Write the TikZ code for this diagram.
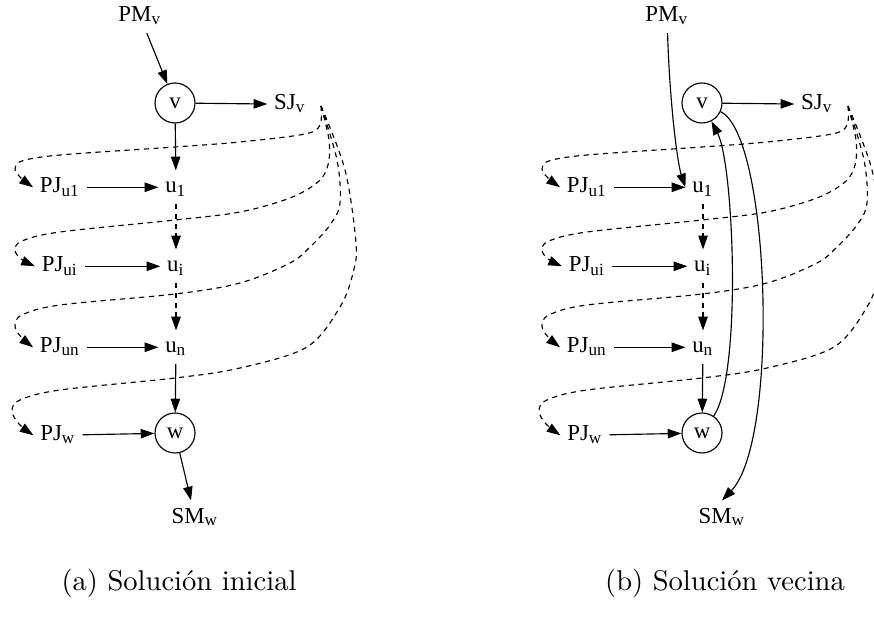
\documentclass[tikz,border=0pt]{standalone}
\usepackage{fontspec}
\newfontfamily\gvfont{Liberation Serif}
\usetikzlibrary{arrows.meta}

\tikzset{
  gv/.style={font=\gvfont\fontsize{8}{9}\selectfont},
  lbl/.style={gv, text height=5.5pt, text depth=1.5pt, inner sep=2.2pt},
  vert/.style={gv, draw, circle, minimum size=14pt, inner sep=0pt},
  flow/.style={-{Triangle[length=4.8pt,width=3.3pt]}},
  hop/.style={flow, dash pattern=on 1.8pt off 1.6pt},
}

\begin{document}
\begin{tikzpicture}[x=0.35pt, y=-0.35pt]
\useasboundingbox (0,0) rectangle (874,619);

% both panels share the same chain
\foreach \p/\dx in {a/0,b/527}{
  \begin{scope}[shift={(\dx,0)}]
    \node[lbl, anchor=base] (pm\p) at (140,22) {PM\textsubscript{v}};
    \node[vert] (v\p) at (175,103) {v};
    \node[lbl, anchor=base] (sj\p) at (290,110) {SJ\textsubscript{v}};
    \node[lbl, anchor=base] (u1\p) at (176,193) {u\textsubscript{1}};
    \node[lbl, anchor=base] (ui\p) at (176,272) {u\textsubscript{i}};
    \node[lbl, anchor=base] (un\p) at (176,353) {u\textsubscript{n}};
    \node[vert] (w\p) at (175,433) {w};
    \node[lbl, anchor=base] (pju1\p) at (60,193) {PJ\textsubscript{u1}};
    \node[lbl, anchor=base] (pjui\p) at (60,272) {PJ\textsubscript{ui}};
    \node[lbl, anchor=base] (pjun\p) at (60,353) {PJ\textsubscript{un}};
    \node[lbl, anchor=base] (pjw\p) at (58,441) {PJ\textsubscript{w}};
    \node[lbl, anchor=base] (sm\p) at (195,523) {SM\textsubscript{w}};
    \coordinate (hub\p) at (321,106);

    \draw[flow] (v\p) -- (sj\p);
    \draw[flow] (pju1\p) -- (u1\p);
    \draw[flow] (pjui\p) -- (ui\p);
    \draw[flow] (pjun\p) -- (un\p);
    \draw[flow] (pjw\p) -- (w\p);
    \draw[hop] (u1\p) -- (ui\p);
    \draw[hop] (ui\p) -- (un\p);
    \draw[flow] (un\p) -- (w\p);

    % loops back from SJ
    \draw[hop] plot[smooth, tension=0.55] coordinates {(hub\p) (320,125) (305,134) (240,142) (175,147) (60,155) (22,161) (15,169) (21,178) (pju1\p.west)};
    \draw[hop] plot[smooth, tension=0.55] coordinates {(hub\p) (329,140) (328,165) (318,182) (290,198) (240,212) (175,220) (60,232) (22,241) (15,250) (21,259) (pjui\p.west)};
    \draw[hop] plot[smooth, tension=0.55] coordinates {(hub\p) (337,160) (340,203) (330,225) (310,247) (290,263) (240,283) (175,294) (60,305) (22,315) (15,326) (21,337) (pjun\p.west)};
    \draw[hop] plot[smooth, tension=0.55] coordinates {(hub\p) (345,170) (356,243) (353,273) (340,307) (307,347) (240,368) (175,378) (60,390) (20,400) (12,411) (19,424) (pjw\p.west)};
  \end{scope}
}

% (a)
\draw[flow] (pma) -- (va);
\draw[flow] (va) -- (u1a);
\draw[flow] (wa) -- (sma);

% (b)
\draw[flow] (pmb) .. controls (670,110) and (678,165) .. (u1b.west);
\draw[flow] (wb) .. controls (742,375) and (734,165) .. (vb);
\draw[flow] (vb) .. controls (770,135) and (780,440) .. (smb.north);

\node[anchor=base] (capa) at (179,590) {(a) Solución inicial};
\node[anchor=base] (capb) at (725,590) {(b) Solución vecina};
\end{tikzpicture}
\end{document}
